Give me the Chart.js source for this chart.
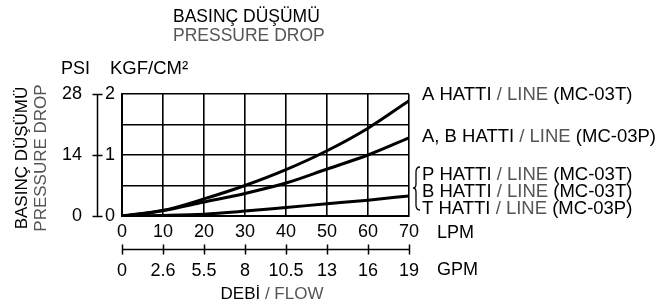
<!DOCTYPE html>
<html>
<head>
<meta charset="utf-8">
<script src="https://cdn.jsdelivr.net/npm/chart.js@4"></script>
<style>
html,body{margin:0;padding:0;background:#fff;}
canvas{display:block;}
</style>
</head>
<body>
<canvas id="c" width="672" height="307"></canvas>
<script>
// ---- data ----
const lpm = [0, 10, 20, 30, 40, 50, 60, 70];
const gpmLabels = ['0', '2.6', '5.5', '8', '10.5', '13', '16', '19'];
const psiLabels = ['0', '14', '28'];
const kgfLabels = ['0', '1', '2'];
const aLineT = [0, 0.09, 0.28, 0.5, 0.76, 1.07, 1.44, 1.89];
const abLineP = [0, 0.09, 0.23, 0.37, 0.54, 0.77, 1.0, 1.28];
const pbtLine = [0, 0.01, 0.03, 0.08, 0.14, 0.2, 0.26, 0.33];

const FONT = "'Liberation Sans', Arial, sans-serif";
const GRAY = '#555';

function mk(vals){ return lpm.map((x,i)=>({x:x,y:vals[i]})); }
const lineStyle = {borderColor:'#000', borderWidth:3, pointRadius:0, cubicInterpolationMode:'monotone', fill:false};

function drawParts(ctx, parts, x, y, align){
  let total = 0;
  parts.forEach(p=>{ total += ctx.measureText(p[0]).width; });
  let cx = align === 'center' ? x - total/2 : x;
  ctx.textAlign = 'left';
  parts.forEach(p=>{ ctx.fillStyle = p[1]; ctx.fillText(p[0], cx, y); cx += ctx.measureText(p[0]).width; });
}

const extras = {
  id:'extras',
  afterDraw(chart){
    const ctx = chart.ctx;
    const psi = chart.scales.psi, x2 = chart.scales.x2;
    ctx.save();
    ctx.strokeStyle = '#000'; ctx.lineWidth = 1.5;
    // PSI axis line with crossing ticks
    const ax = 97.5;
    ctx.beginPath();
    ctx.moveTo(ax, psi.getPixelForValue(28)); ctx.lineTo(ax, psi.getPixelForValue(0));
    [0,14,28].forEach(v=>{ const py = Math.round(psi.getPixelForValue(v))+0.5; ctx.moveTo(ax-5, py); ctx.lineTo(ax+5, py); });
    ctx.stroke();
    // GPM axis line with crossing ticks
    const gy = Math.round(x2.top) + 3.5;
    ctx.beginPath();
    ctx.moveTo(x2.getPixelForValue(0), gy); ctx.lineTo(x2.getPixelForValue(70), gy);
    lpm.forEach(v=>{ const px = Math.round(x2.getPixelForValue(v))+0.5; ctx.moveTo(px, gy-5); ctx.lineTo(px, gy+5); });
    ctx.stroke();

    ctx.textBaseline = 'middle';
    // top title
    ctx.font = '17.5px ' + FONT;
    ctx.fillStyle = '#000'; ctx.textAlign = 'left';
    ctx.fillText('BASINÇ DÜŞÜMÜ', 173, 17);
    ctx.fillStyle = GRAY;
    ctx.fillText('PRESSURE DROP', 173, 36);
    // unit headers
    ctx.font = '18px ' + FONT;
    ctx.fillStyle = '#000';
    ctx.fillText('PSI', 61, 69);
    ctx.font = '18.5px ' + FONT;
    ctx.fillText('KGF/CM²', 110, 69);
    // axis unit labels
    ctx.font = '18px ' + FONT;
    ctx.fillText('LPM', 437, 233);
    ctx.fillText('GPM', 437, 270);
    // x title
    ctx.font = '17px ' + FONT;
    drawParts(ctx, [['DEBİ','#000'],[' / FLOW',GRAY]], 272, 294, 'center');
    // rotated y title
    ctx.save();
    ctx.translate(22, 158); ctx.rotate(-Math.PI/2);
    ctx.font = '17px ' + FONT; ctx.textAlign = 'center';
    ctx.fillStyle = '#000'; ctx.fillText('BASINÇ DÜŞÜMÜ', 0, 0);
    ctx.restore();
    ctx.save();
    ctx.translate(41, 158); ctx.rotate(-Math.PI/2);
    ctx.font = '17px ' + FONT; ctx.textAlign = 'center';
    ctx.fillStyle = GRAY; ctx.fillText('PRESSURE DROP', 0, 0);
    ctx.restore();
    // right line labels
    ctx.font = '18.5px ' + FONT;
    const lx = 422;
    drawParts(ctx, [['A HATTI','#000'],[' / LINE',GRAY],[' (MC-03T)','#000']], lx, 95, 'left');
    drawParts(ctx, [['A, B HATTI','#000'],[' / LINE',GRAY],[' (MC-03P)','#000']], lx, 137, 'left');
    drawParts(ctx, [['P HATTI','#000'],[' / LINE',GRAY],[' (MC-03T)','#000']], lx, 175, 'left');
    drawParts(ctx, [['B HATTI','#000'],[' / LINE',GRAY],[' (MC-03T)','#000']], lx, 192, 'left');
    drawParts(ctx, [['T HATTI','#000'],[' / LINE',GRAY],[' (MC-03P)','#000']], lx, 209, 'left');
    // brace
    ctx.lineWidth = 1.3; ctx.strokeStyle = '#000';
    ctx.beginPath();
    ctx.moveTo(420, 167);
    ctx.quadraticCurveTo(416, 167, 416, 172);
    ctx.lineTo(416, 184);
    ctx.quadraticCurveTo(416, 188, 413, 188);
    ctx.quadraticCurveTo(416, 188, 416, 192);
    ctx.lineTo(416, 205);
    ctx.quadraticCurveTo(416, 210, 420, 210);
    ctx.stroke();
    ctx.restore();
  }
};

new Chart(document.getElementById('c'), {
  type:'line',
  data:{
    datasets:[
      Object.assign({label:'A HATTI / LINE (MC-03T)', data:mk(aLineT)}, lineStyle),
      Object.assign({label:'A, B HATTI / LINE (MC-03P)', data:mk(abLineP)}, lineStyle),
      Object.assign({label:'P, B, T HATTI / LINE', data:mk(pbtLine)}, lineStyle)
    ]
  },
  options:{
    responsive:false,
    animation:false,
    devicePixelRatio:1,
    layout:{padding:{left:0, right:263, top:94, bottom:21}},
    plugins:{legend:{display:false}, tooltip:{enabled:false}, title:{display:false}},
    scales:{
      x:{
        type:'linear', position:'bottom', min:0, max:70,
        afterFit(s){ s.height = 30; },
        ticks:{stepSize:10, color:'#000', padding:5, font:{family:FONT, size:18}, maxRotation:0},
        grid:{color:'#000', lineWidth:1.6, drawTicks:false},
        border:{display:true, color:'#000', width:2}
      },
      x2:{
        type:'linear', position:'bottom', min:0, max:70,
        afterFit(s){ s.height = 40; },
        afterTickToLabelConversion(s){ s.ticks.forEach((t,i)=>{ t.label = gpmLabels[i]; }); },
        ticks:{stepSize:10, color:'#000', padding:6, font:{family:FONT, size:18}, maxRotation:0},
        grid:{display:false},
        border:{display:false}
      },
      y:{
        type:'linear', position:'left', min:0, max:2, weight:0,
        afterFit(s){ s.width = 25; },
        ticks:{stepSize:0.5, color:'#000', padding:7, font:{family:FONT, size:18},
          callback(v){ return Number.isInteger(v) ? kgfLabels[v] : ''; }},
        grid:{color:'#000', lineWidth:1.6, drawTicks:false},
        border:{display:true, color:'#000', width:2}
      },
      psi:{
        type:'linear', position:'left', min:0, max:28, weight:1,
        afterFit(s){ s.width = 97; },
        ticks:{stepSize:14, color:'#000', padding:7, font:{family:FONT, size:18},
          callback(v, i){ return psiLabels[i]; }},
        grid:{display:false},
        border:{display:false}
      }
    }
  },
  plugins:[extras]
});
</script>
</body>
</html>
